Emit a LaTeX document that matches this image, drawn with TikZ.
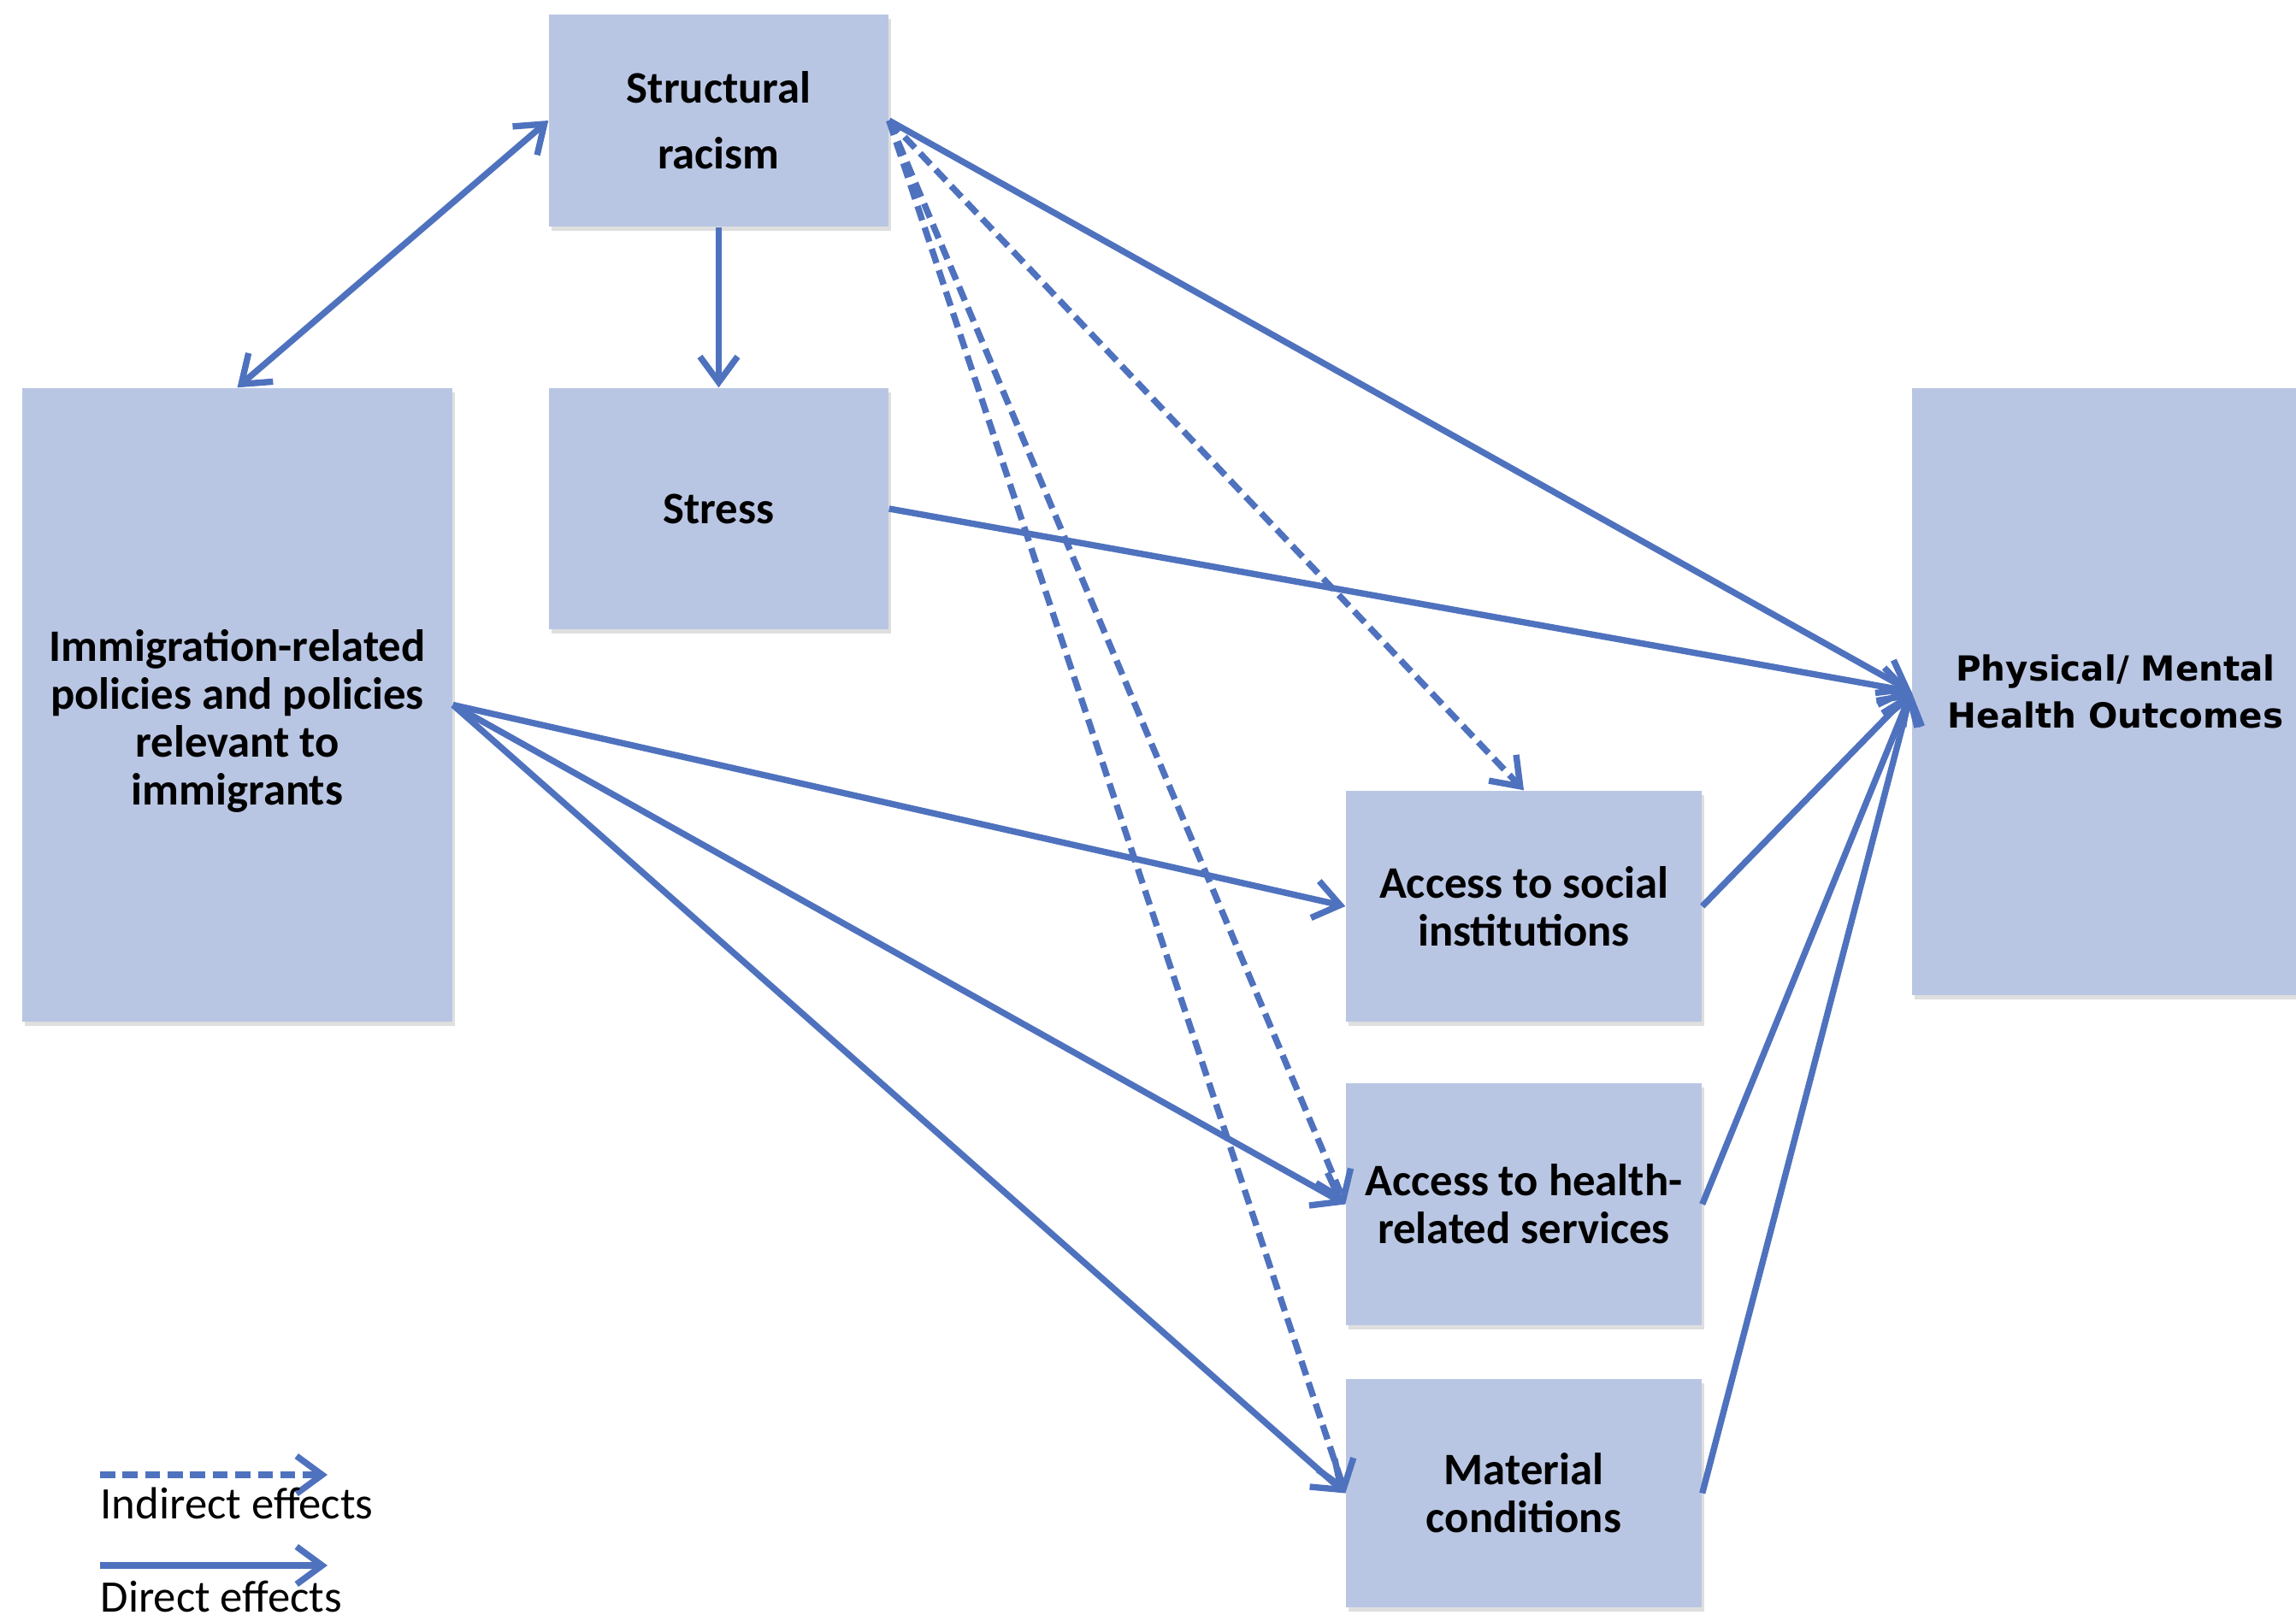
\documentclass[tikz,border=0pt]{standalone}
\usepackage{fontspec}
\setmainfont{Carlito}
\newfontfamily\outfont{DejaVu Sans}
\usepackage{tikz}
\usetikzlibrary{positioning,arrows.meta,calc,shadows}
\definecolor{boxblue}{RGB}{185,198,227}
\definecolor{arrowblue}{RGB}{79,114,190}
\tikzset{
    block/.style = {
        shape=rectangle,
        fill=boxblue,
        align=center,
        inner sep=0pt,
        font=\fontsize{15}{16}\selectfont\bfseries,
        drop shadow={shadow xshift=0.03cm, shadow yshift=-0.05cm, opacity=0.25}
    },
    effect/.style = {
        draw=arrowblue,
        line width=2.1pt,
        ->
    },
    indirect/.style = {
        effect,
        dash pattern=on 5pt off 2.5pt
    },
    legend/.style = {
        anchor=base west,
        inner sep=0pt,
        font=\fontsize{15}{18}\selectfont
    },
    >={Straight Barb[length=0.3cm, width=0.44cm]},
}

\begin{document}
\begin{tikzpicture}
            \useasboundingbox (0,0) rectangle (26.85,18.95);
            \node[block, minimum width=3.97cm, minimum height=2.48cm, font=\fontsize{15}{22}\selectfont\bfseries] (sr) at (8.405,17.54) {Structural\\racism};
            \node[block, minimum width=3.97cm, minimum height=2.82cm] (st) at (8.405,13.00) {Stress};
            \node[block, minimum width=5.03cm, minimum height=7.41cm] (ip) at (2.775,10.705) {\rule{0pt}{0.75cm}Immigration-related\\policies and policies\\relevant to\\immigrants};
            \node[block, minimum width=4.16cm, minimum height=2.70cm] (as) at (17.82,8.35) {Access to social\\institutions};
            \node[block, minimum width=4.16cm, minimum height=2.83cm] (ah) at (17.82,4.865) {Access to health-\\related services};
            \node[block, minimum width=4.16cm, minimum height=2.67cm] (mc) at (17.82,1.485) {Material\\conditions};
            \node[block, minimum width=4.76cm, minimum height=7.10cm, font=\fontsize{11.5}{15.6}\selectfont\outfont\bfseries] (ho) at (24.74,10.86) {Physical/ Mental\\Health Outcomes};

            \path[effect, <->] (ip.north) -- (sr.west);
            \path[effect] (sr.south) -- (st.north);
            \path[effect] (sr.east) -- (ho.west);
            \path[effect] (st.east) -- (ho.west);
            \path[indirect] (sr.east) -- (as.north);
            \path[indirect] (sr.east) -- (ah.west);
            \path[indirect] (sr.east) -- (mc.west);
            \path[effect] (ip.east) -- (as.west);
            \path[effect] (ip.east) -- (ah.west);
            \path[effect] (ip.east) -- (mc.west);
            \path[effect] (as.east) -- (ho.west);
            \path[effect] (ah.east) -- (ho.west);
            \path[effect] (mc.east) -- (ho.west);

            \coordinate (ia) at (1.17,1.70);
            \coordinate (ib) at (3.83,1.70);
            \path[indirect] (ia) -- (ib);
            \node[legend] (il) at (1.17,1.19) {Indirect effects};
            \coordinate (da) at (1.17,0.64);
            \coordinate (db) at (3.83,0.64);
            \path[effect] (da) -- (db);
            \node[legend] (dl) at (1.17,0.10) {Direct effects};
        \end{tikzpicture}
\end{document}
